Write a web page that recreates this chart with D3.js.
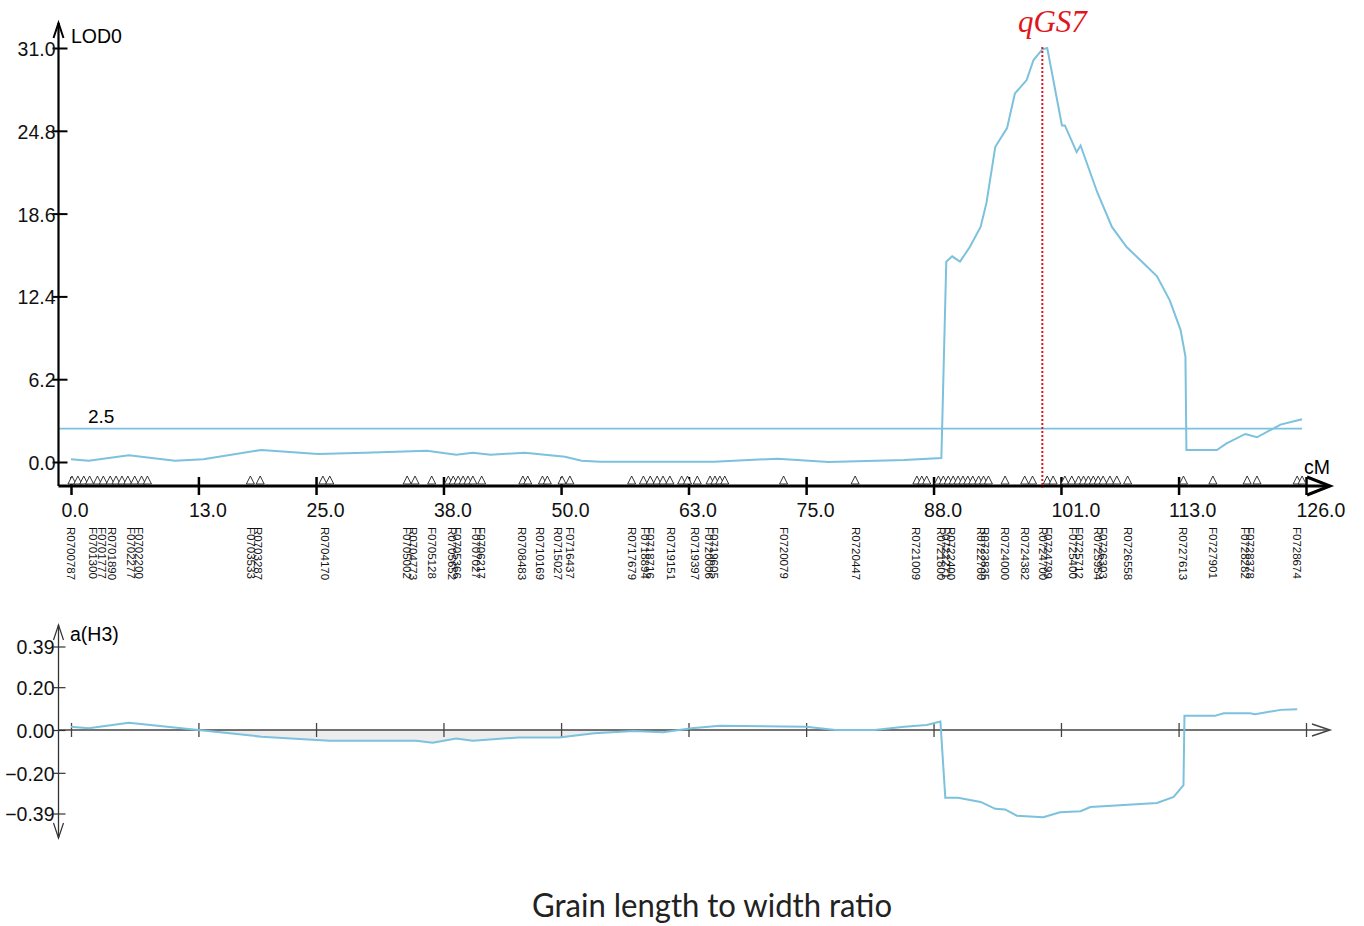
<!DOCTYPE html>
<html>
<head>
<meta charset="utf-8">
<script src="https://cdn.jsdelivr.net/npm/d3@7"></script>
<style>
  body { margin: 0; background: #fff; }
  svg text { font-family: "Liberation Sans", Arial, sans-serif; }
</style>
</head>
<body>
<div id="chart"></div>
<script>
// LOD profile along chromosome 7 (cM, LOD)
var lodPos = [0, 1.8, 5.9, 10.6, 13.5, 19.4, 25.2, 30, 36.3, 39.3, 41, 42.8, 46.3, 50.4, 52.1, 54, 65.6, 72.1, 77.3, 85, 88.8,
  89.3, 89.9, 90.7, 91.7, 92.8, 93.4, 94.3, 95.5, 96.3, 97.5, 98.2, 99.1, 99.6, 101.1, 101.4, 102.6, 103.0, 104.7, 106.2,
  107.7, 109.4, 110.8, 112.1, 113.2, 113.7, 113.8, 116.9, 117.9, 119.8, 121.0, 123.4, 125.6];
var lodVal = [0.2, 0.1, 0.5, 0.1, 0.2, 0.9, 0.6, 0.7, 0.85, 0.55, 0.7, 0.55, 0.7, 0.4, 0.1, 0.02, 0.02, 0.25, 0.0, 0.15, 0.3,
  15.0, 15.4, 15.0, 16.1, 17.6, 19.4, 23.6, 25.0, 27.6, 28.6, 30.1, 30.9, 31.0, 25.2, 25.2, 23.2, 23.7, 20.2, 17.6,
  16.1, 14.9, 13.9, 12.1, 9.9, 7.9, 0.9, 0.9, 1.4, 2.1, 1.85, 2.8, 3.2];

// additive effect a(H3)
var effPos = [0, 1.8, 5.9, 13, 19.4, 26.4, 35.2, 36.9, 39.3, 41, 45.7, 49.8, 53.4, 57.4, 60.4, 63.3, 66.2, 75, 78, 82, 85, 87.3,
  88.7, 89.2, 90.5, 92.8, 94.3, 95.3, 96.5, 99.2, 100.9, 103, 104, 107, 110.8, 112.5, 113.5, 113.6, 116.7, 117.6, 120.3,
  120.8, 123.4, 125.1];
var effVal = [0.015, 0.008, 0.034, 0, -0.031, -0.05, -0.05, -0.06, -0.04, -0.05, -0.035, -0.035, -0.015, -0.005, -0.01, 0.008,
  0.02, 0.015, 0, 0, 0.015, 0.023, 0.04, -0.316, -0.316, -0.336, -0.368, -0.371, -0.4, -0.407, -0.384, -0.379, -0.36,
  -0.352, -0.341, -0.313, -0.258, 0.066, 0.066, 0.078, 0.078, 0.074, 0.094, 0.097];

// all marker positions (cM)
var markerPos = [0.1, 0.7, 1.3, 1.9, 2.7, 3.3, 4.0, 4.6, 5.2, 5.8, 6.5, 7.2, 7.8, 18.3, 19.3, 25.7, 26.4, 34.3, 35.1, 36.8,
  38.5, 39.0, 39.5, 40.0, 40.5, 41.0, 41.9, 46.1, 46.6, 48.1, 48.6, 50.1, 50.9, 57.2, 58.4, 59.1, 59.8, 60.4, 61.1, 62.3,
  62.9, 63.9, 65.2, 65.7, 66.2, 66.7, 72.7, 80.0, 86.3, 86.8, 87.3, 88.5, 89.0, 89.5, 90.0, 90.5, 91.0, 91.5, 92.0, 92.6,
  93.1, 93.6, 95.3, 97.3, 98.1, 99.6, 100.2, 101.4, 102.1, 102.8, 103.3, 103.8, 104.3, 104.8, 105.3, 106.0, 106.7, 107.8,
  113.5, 116.5, 120.0, 121.0, 125.1, 125.6];

// labelled markers
var markerNames = ["R0700787", "F0701300", "F0701777", "R0701890", "F0702277", "F0702200", "F0703533", "R0703287",
  "R0704170", "F0705002", "R0704773", "F0705128", "R0705652", "F0705366", "F0707027", "F0706217", "R0708483", "R0710169",
  "R0715027", "F0716437", "R0717679", "F0718894", "F0718716", "R0719151", "R0719397", "F0720006", "F0719605", "F0720079",
  "R0720447", "R0721009", "R0721800", "F0722271", "R0722400", "R0722700", "R0723835", "R0724000", "R0724382", "R0724700",
  "F0724799", "F0725400", "F0725712", "R0725954", "F0726303", "R0726558", "R0727613", "F0727901", "F0728282", "F0728378",
  "F0728674"];
var markerNamePos = [0.0, 2.2, 3.2, 4.2, 6.1, 6.9, 18.4, 19.1, 25.9, 34.3, 34.9, 36.8, 38.9, 39.4, 41.3, 41.8, 46.0, 47.9,
  49.7, 50.9, 57.2, 58.6, 59.1, 61.2, 63.7, 65.1, 65.6, 72.7, 80.1, 86.2, 88.8, 89.3, 89.8, 92.8, 93.3, 95.3, 97.3, 99.2,
  99.7, 102.2, 102.8, 104.8, 105.3, 107.8, 113.5, 116.5, 119.8, 120.3, 125.1];

var xTicks = [0, 13, 25, 38, 50, 63, 75, 88, 101, 113, 126];
var lodTicks = [0, 6.2, 12.4, 18.6, 24.8, 31.0];
var effTicks = [-0.39, -0.2, 0, 0.2, 0.39];
var threshold = 2.5;
var qtlName = "qGS7";
var qtlPos = 99.1;
var title = "Grain length to width ratio";

var width = 1364, height = 926;
var curveColor = "#7cc1dd";

var svg = d3.select("#chart").append("svg")
  .attr("width", width)
  .attr("height", height);

var x = d3.scaleLinear().domain([0, 126]).range([71, 1306]);
var yLod = d3.scaleLinear().domain([0, 31]).range([462, 48]);
var yEff = d3.scaleLinear().domain([-0.39, 0.39]).range([813.5, 646.5]);

var axisX0 = 58.5, axisTop = 486;

// ---------- top panel ----------
var topG = svg.append("g");

// threshold line
topG.append("line")
  .attr("x1", axisX0).attr("x2", x(125.6))
  .attr("y1", yLod(threshold)).attr("y2", yLod(threshold))
  .attr("stroke", curveColor).attr("stroke-width", 1.8);
topG.append("text")
  .attr("x", 88).attr("y", yLod(threshold) - 6)
  .attr("font-size", 19).text(threshold.toFixed(1));

// LOD curve
var lodLine = d3.line()
  .x(function (d) { return x(d[0]); })
  .y(function (d) { return yLod(d[1]); });
topG.append("path")
  .datum(lodPos.map(function (p, i) { return [p, lodVal[i]]; }))
  .attr("d", lodLine)
  .attr("fill", "none")
  .attr("stroke", curveColor)
  .attr("stroke-width", 2);

// y axis
var yAxis = topG.append("g")
  .attr("transform", "translate(" + axisX0 + ",0)")
  .call(d3.axisLeft(yLod).tickValues(lodTicks).tickFormat(d3.format(".1f")).tickSize(6));
yAxis.select(".domain").remove();
yAxis.selectAll(".tick line").attr("x1", -6).attr("x2", 9).attr("stroke", "#000").attr("stroke-width", 2);
yAxis.selectAll(".tick text")
  .attr("x", -3).attr("dy", "0.38em")
  .attr("font-size", 19.5).attr("fill", "#111")
  .style("font-family", "Liberation Sans, Arial, sans-serif");

topG.append("line")
  .attr("x1", axisX0).attr("x2", axisX0).attr("y1", 23).attr("y2", axisTop)
  .attr("stroke", "#000").attr("stroke-width", 2.2);
topG.append("path")
  .attr("d", "M" + (axisX0 - 5) + ",38 L" + axisX0 + ",23 L" + (axisX0 + 5) + ",38")
  .attr("fill", "none").attr("stroke", "#000").attr("stroke-width", 2);
topG.append("text").attr("x", 71).attr("y", 43).attr("font-size", 19.5).text("LOD0");

// x axis
var xAxis = topG.append("g")
  .attr("transform", "translate(0," + axisTop + ")")
  .call(d3.axisBottom(x).tickValues(xTicks).tickFormat(d3.format(".1f")).tickSize(9));
xAxis.select(".domain").remove();
xAxis.selectAll(".tick line").attr("y1", -9).attr("y2", 9).attr("stroke", "#000").attr("stroke-width", 2.5);
xAxis.selectAll(".tick text")
  .attr("y", 31).attr("dy", 0).attr("text-anchor", "start").attr("x", -10)
  .attr("font-size", 19.5).attr("fill", "#111")
  .style("font-family", "Liberation Sans, Arial, sans-serif");

topG.append("line")
  .attr("x1", axisX0).attr("x2", 1328).attr("y1", axisTop).attr("y2", axisTop)
  .attr("stroke", "#000").attr("stroke-width", 3);
topG.append("path")
  .attr("d", "M1307," + (axisTop - 9) + " L1330," + axisTop + " L1307," + (axisTop + 9))
  .attr("fill", "none").attr("stroke", "#000").attr("stroke-width", 3);
topG.append("text").attr("x", 1304).attr("y", 474).attr("font-size", 19.5).text("cM");

// marker triangles
topG.append("g").selectAll("path")
  .data(markerPos)
  .enter().append("path")
  .attr("d", function (d) {
    var cx = x(d);
    return "M" + (cx - 4) + "," + (axisTop - 2) + " L" + cx + "," + (axisTop - 10) + " L" + (cx + 4) + "," + (axisTop - 2) + "Z";
  })
  .attr("fill", "#fff").attr("stroke", "#222").attr("stroke-width", 0.9);

// marker names
topG.append("g").selectAll("text")
  .data(markerNames)
  .enter().append("text")
  .attr("transform", function (d, i) { return "translate(" + (x(markerNamePos[i]) - 4) + ",527) rotate(90)"; })
  .attr("font-size", 11.5)
  .attr("fill", "#111")
  .text(function (d) { return d; });

// QTL label and dotted line
topG.append("line")
  .attr("x1", x(qtlPos)).attr("x2", x(qtlPos))
  .attr("y1", 47).attr("y2", axisTop + 2)
  .attr("stroke", "#e0161d").attr("stroke-width", 2).attr("stroke-dasharray", "2,2");
topG.append("text")
  .attr("x", x(qtlPos) + 10).attr("y", 32)
  .attr("text-anchor", "middle")
  .attr("font-size", 31).attr("font-style", "italic")
  .attr("fill", "#e0161d")
  .style("font-family", "Liberation Serif, Times New Roman, serif")
  .text(qtlName);

// ---------- bottom panel ----------
var botG = svg.append("g");
var zeroY = yEff(0);

var effData = effPos.map(function (p, i) { return [p, effVal[i]]; });

// light fill between curve and zero
botG.append("path")
  .datum(effData.filter(function (d) { return d[0] >= 13 && d[0] <= 63.3; }))
  .attr("d", d3.area()
    .x(function (d) { return x(d[0]); })
    .y0(zeroY)
    .y1(function (d) { return yEff(d[1]); }))
  .attr("fill", "#ededed");

botG.append("line")
  .attr("x1", axisX0).attr("x2", 1328).attr("y1", zeroY).attr("y2", zeroY)
  .attr("stroke", "#444").attr("stroke-width", 1.5);
botG.append("path")
  .attr("d", "M1312," + (zeroY - 6) + " L1330," + zeroY + " L1312," + (zeroY + 6))
  .attr("fill", "none").attr("stroke", "#444").attr("stroke-width", 1.5);

var xAxis2 = botG.append("g")
  .attr("transform", "translate(0," + zeroY + ")")
  .call(d3.axisBottom(x).tickValues(xTicks).tickFormat("").tickSize(7));
xAxis2.select(".domain").remove();
xAxis2.selectAll(".tick line").attr("y1", -7).attr("y2", 7).attr("stroke", "#444").attr("stroke-width", 1.3);

botG.append("path")
  .datum(effData)
  .attr("d", d3.line()
    .x(function (d) { return x(d[0]); })
    .y(function (d) { return yEff(d[1]); }))
  .attr("fill", "none")
  .attr("stroke", curveColor)
  .attr("stroke-width", 2);

var yAxis2 = botG.append("g")
  .attr("transform", "translate(" + axisX0 + ",0)")
  .call(d3.axisLeft(yEff).tickValues(effTicks).tickFormat(d3.format(".2f")).tickSize(6));
yAxis2.select(".domain").remove();
yAxis2.selectAll(".tick line").attr("x1", -5).attr("x2", 7).attr("stroke", "#333").attr("stroke-width", 1.2);
yAxis2.selectAll(".tick text")
  .attr("x", -4).attr("dy", "0.38em")
  .attr("font-size", 19.5).attr("fill", "#111")
  .style("font-family", "Liberation Sans, Arial, sans-serif");

botG.append("line")
  .attr("x1", axisX0).attr("x2", axisX0).attr("y1", 625).attr("y2", 838)
  .attr("stroke", "#333").attr("stroke-width", 1.3);
botG.append("path")
  .attr("d", "M" + (axisX0 - 5) + ",640 L" + axisX0 + ",625 L" + (axisX0 + 5) + ",640")
  .attr("fill", "none").attr("stroke", "#333").attr("stroke-width", 1.2);
botG.append("path")
  .attr("d", "M" + (axisX0 - 5) + ",823 L" + axisX0 + ",838 L" + (axisX0 + 5) + ",823")
  .attr("fill", "none").attr("stroke", "#333").attr("stroke-width", 1.2);
botG.append("text").attr("x", 70).attr("y", 641).attr("font-size", 19.5).text("a(H3)");

// ---------- title ----------
svg.append("text")
  .attr("x", 712).attr("y", 917)
  .attr("text-anchor", "middle")
  .attr("font-size", 33)
  .attr("fill", "#222")
  .attr("textLength", 360)
  .attr("lengthAdjust", "spacingAndGlyphs")
  .style("font-family", "Lato, 'Open Sans', sans-serif")
  .text(title);
</script>
</body>
</html>
